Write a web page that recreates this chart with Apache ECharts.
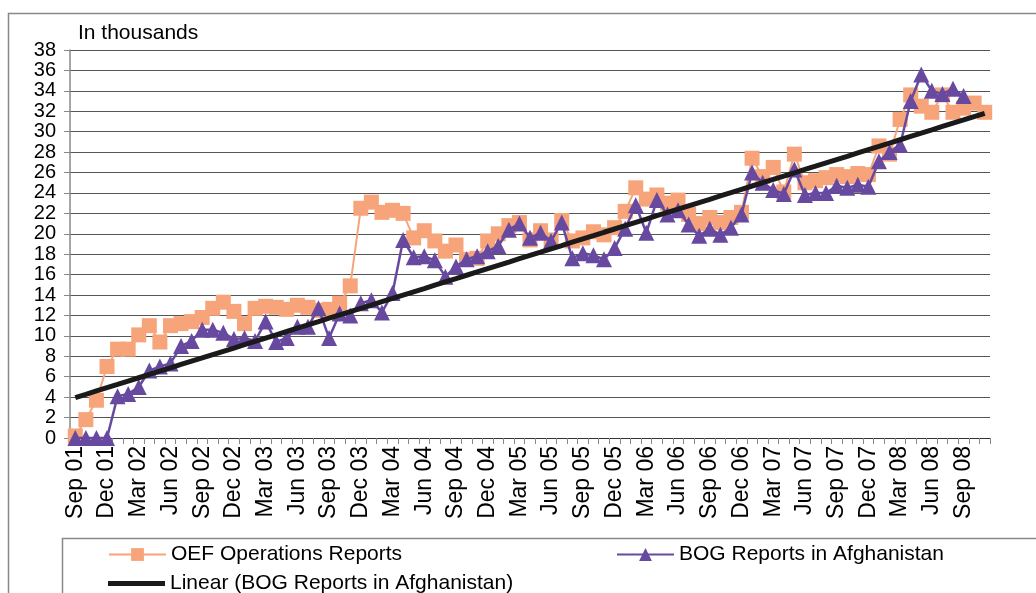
<!DOCTYPE html>
<html>
<head>
<meta charset="utf-8">
<script src="https://cdn.jsdelivr.net/npm/echarts@6/dist/echarts.min.js"></script>
<style>
  html, body { margin: 0; padding: 0; background: #fff; }
  #chart { width: 1036px; height: 593px; }
</style>
</head>
<body>
<div id="chart"></div>
<script>
// months Sep 01 .. Nov 08
var monthNames = ['Jan', 'Feb', 'Mar', 'Apr', 'May', 'Jun', 'Jul', 'Aug', 'Sep', 'Oct', 'Nov', 'Dec'];
var categories = [];
for (var i = 0; i < 87; i++) {
  var m = (8 + i) % 12;
  var yr = 1 + Math.floor((8 + i) / 12);
  categories.push(monthNames[m] + ' 0' + yr);
}

var oefReports = [
  0.2, 1.8, 3.7, 7.0, 8.7, 8.7, 10.1, 11.0, 9.4, 11.0,
  11.2, 11.4, 11.8, 12.7, 13.3, 12.4, 11.2, 12.7, 12.9, 12.8,
  12.6, 13.0, 12.8, 12.5, 12.6, 13.2, 14.9, 22.5, 23.1, 22.1,
  22.3, 22.0, 19.6, 20.3, 19.3, 18.3, 18.9, 17.5, 17.6, 19.3,
  20.0, 20.8, 21.1, 19.4, 20.3, 19.4, 21.3, 19.3, 19.6, 20.2,
  19.9, 20.6, 22.2, 24.5, 23.4, 23.8, 23.0, 23.3, 21.9, 21.0,
  21.6, 21.1, 21.6, 22.1, 27.4, 25.6, 26.5, 24.1, 27.8, 25.0,
  25.2, 25.5, 25.8, 25.6, 25.9, 25.8, 28.6, 27.8, 31.2, 33.6,
  32.5, 31.9, 33.6, 31.9, 32.3, 32.8, 31.9
];

var bogReports = [
  0, 0, 0, 0, 4.1, 4.3, 5.0, 6.6, 7.0, 7.3,
  9.0, 9.5, 10.6, 10.6, 10.3, 9.7, 9.8, 9.5, 11.4, 9.4,
  9.8, 10.9, 10.9, 12.7, 9.8, 12.2, 12.0, 13.2, 13.5, 12.3,
  14.2, 19.4, 17.7, 17.8, 17.4, 15.8, 16.8, 17.5, 17.8, 18.3,
  18.8, 20.4, 21.0, 19.6, 20.1, 19.3, 21.1, 17.6, 18.1, 17.9,
  17.5, 18.6, 20.5, 22.8, 20.1, 23.3, 21.9, 22.3, 20.9, 19.8,
  20.5, 19.9, 20.6, 21.9, 26.0, 25.0, 24.3, 23.9, 26.3, 23.8,
  24.0, 24.0, 24.7, 24.5, 24.8, 24.6, 27.1, 28.0, 28.7, 33.0,
  35.6, 34.0, 33.7, 34.2, 33.5, null, null
];

// least squares trend of the BOG series
var n = 0, sx = 0, sy = 0, sxx = 0, sxy = 0;
bogReports.forEach(function (v, i) {
  if (v == null) return;
  n++; sx += i; sy += v; sxx += i * i; sxy += i * v;
});
var slope = (n * sxy - sx * sy) / (n * sxx - sx * sx);
var icpt = (sy - slope * sx) / n;
var trend = categories.map(function (c, i) { return +(icpt + slope * i).toFixed(2); });

var font = 'Liberation Sans, Arial, sans-serif';
var legendText = { fontSize: 21, color: '#000', fontFamily: font };
var chart = echarts.init(document.getElementById('chart'));
chart.setOption({
  animation: false,
  textStyle: { fontFamily: font },
  grid: { left: 70, right: 46, top: 50, bottom: 155 },
  graphic: [
    { type: 'rect', shape: { x: 8.5, y: 13.5, width: 1100, height: 700 }, style: { fill: 'none', stroke: '#888', lineWidth: 1.5 } },
    { type: 'rect', shape: { x: 62.5, y: 538.5, width: 1100, height: 100 }, style: { fill: 'none', stroke: '#888', lineWidth: 1.5 } },
    { type: 'text', left: 78, top: 23, style: { text: 'In thousands', font: '21px ' + font, fill: '#000' } }
  ],
  legend: [
    { data: ['OEF Operations Reports'], left: 103, top: 539, itemWidth: 57, itemHeight: 16, itemGap: 0, textStyle: legendText },
    { data: ['BOG Reports in Afghanistan'], left: 611, top: 539, itemWidth: 57, itemHeight: 16, itemGap: 0, textStyle: legendText },
    { data: [{ name: 'Linear (BOG Reports in Afghanistan)', icon: 'rect' }], left: 103, top: 568, itemWidth: 57, itemHeight: 5, textStyle: legendText }
  ],
  xAxis: {
    type: 'category',
    data: categories,
    boundaryGap: true,
    axisLine: { lineStyle: { color: '#333', width: 1 } },
    axisTick: { show: true, interval: 0, length: 6, lineStyle: { color: '#888' } },
    axisLabel: { interval: 2, rotate: 90, fontSize: 23, color: '#000', margin: 8, fontFamily: font },
    splitLine: { show: false }
  },
  yAxis: {
    type: 'value',
    min: 0,
    max: 38,
    interval: 2,
    axisLine: { show: true, lineStyle: { color: '#888', width: 1.5 } },
    axisTick: { show: true, length: 6, lineStyle: { color: '#888' } },
    axisLabel: { fontSize: 20, color: '#000', margin: 14, fontFamily: font, showMinLabel: true, showMaxLabel: true, hideOverlap: false },
    splitLine: { lineStyle: { color: '#555', width: 1 } }
  },
  series: [
    {
      name: 'OEF Operations Reports',
      type: 'line',
      data: oefReports,
      symbol: 'rect',
      symbolSize: 15,
      showAllSymbol: true,
      itemStyle: { color: '#F7A47B' },
      lineStyle: { color: '#F7A47B', width: 2 },
      z: 2
    },
    {
      name: 'BOG Reports in Afghanistan',
      type: 'line',
      data: bogReports,
      symbol: 'triangle',
      symbolSize: 16,
      showAllSymbol: true,
      itemStyle: { color: '#6749A0' },
      lineStyle: { color: '#6749A0', width: 2.5 },
      z: 3
    },
    {
      name: 'Linear (BOG Reports in Afghanistan)',
      type: 'line',
      data: trend,
      symbol: 'none',
      itemStyle: { color: '#1a1a1a' },
      lineStyle: { color: '#1a1a1a', width: 5 },
      z: 4
    }
  ]
});
</script>
</body>
</html>
